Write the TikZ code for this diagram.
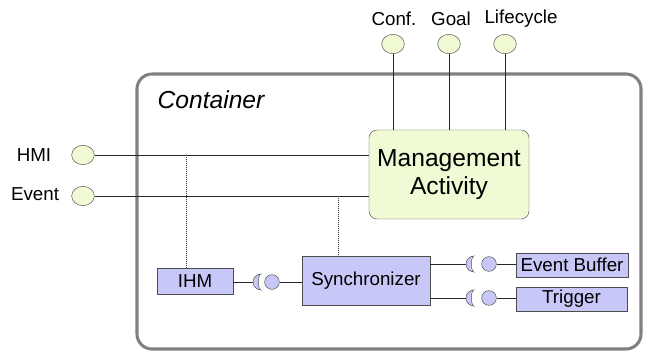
\documentclass[tikz,border=0pt]{standalone}
\usepackage{fontspec}
\setmainfont{Liberation Sans}
\usepackage{tikz}
\usepackage{color}
\usetikzlibrary{shapes}

\definecolor{actgreen}{RGB}{240,250,212}
\definecolor{partblue}{RGB}{200,200,248}
\definecolor{boxgray}{RGB}{128,128,128}

\begin{document}
\begin{tikzpicture}[x=0.03cm,y=-0.03cm]
    \tikzstyle{every node}=[font=\fontsize{16}{18}\selectfont]
    \tikzstyle{port}=[ellipse,draw=black!70,fill=actgreen,inner sep=0pt,
      minimum width=0.68cm,minimum height=0.58cm]
    \tikzstyle{part}=[rectangle,draw=black!70,fill=partblue,inner sep=0pt]
    \tikzstyle{ball}=[circle,draw=black!70,fill=partblue,inner sep=0pt,
      minimum size=0.44cm]
    \tikzstyle{wire}=[draw=black!85,line width=0.6pt]
    \useasboundingbox (0,0) rectangle (645,352);
    % container
    \draw[boxgray,line width=2.6pt,rounded corners=0.45cm] (137,74) rectangle (641,349);
    \node (cont) at (211,100) {\fontsize{21}{23}\selectfont\itshape Container};
    % management activity
    \node[rectangle,draw=black!70,fill=actgreen,rounded corners=0.24cm,
      minimum width=4.8cm,minimum height=2.67cm,align=center,
      font=\fontsize{21}{24}\selectfont] (mgmt) at (449,174.5)
      {Management\\Activity};
    % ports on top
    \foreach \name/\px/\tx/\txt in {conf/393/394/Conf.,goal/449/451/Goal,life/505/521/Lifecycle}{
      \node[port] (\name) at (\px,44) {};
      \node (\name-lbl) at (\tx,19) {\txt};
      \draw[wire] (\name) -- (\name |- mgmt.north);
    }
    % ports on the left
    \node[port] (hmi) at (83,155) {};
    \node[port] (evt) at (83,196) {};
    \node (hmi-lbl) at (34,155) {HMI};
    \node (evt-lbl) at (35,194) {Event};
    \draw[wire] (hmi) -- (hmi -| mgmt.west);
    \draw[wire] (evt) -- (evt -| mgmt.west);
    % parts
    \node[part,minimum width=2.28cm,minimum height=0.78cm] (ihm) at (195,281) {IHM};
    \node[part,minimum width=3.84cm,minimum height=1.47cm] (sync) at (366,280.5) {Synchronizer};
    \node[part,minimum width=3.36cm,minimum height=0.72cm] (evbuf) at (572,265) {Event Buffer};
    \node[part,minimum width=3.33cm,minimum height=0.72cm] (trig) at (571.5,299) {Trigger};
    % dotted links
    \coordinate (d1) at (186,155);
    \coordinate (d2) at (338,196);
    \draw[black!80,densely dotted,line width=0.7pt] (d1) -- (d1 |- ihm.north);
    \draw[black!80,densely dotted,line width=0.7pt] (d2) -- (d2 |- sync.north);
    % sockets and balls
    \foreach \sk/\bl/\sx/\bx/\sy in {s1/b1/253/272/282,s2/b2/466/489/264,s3/b3/466/489/298}{
      \coordinate (\sk) at (\sx,\sy);
      \node[ball] (\bl) at (\bx,\sy) {};
      \draw[draw=black!70,fill=partblue] (\sx+8,\sy-8) arc[start angle=90,end angle=270,radius=0.24cm]
        arc[start angle=270,end angle=90,x radius=0.08cm,y radius=0.24cm] -- cycle;
    }
    \draw[wire] (ihm.east |- s1) -- (s1);
    \draw[wire] (b1) -- (b1 -| sync.west);
    \draw[wire] (sync.east |- s2) -- (s2);
    \draw[wire] (sync.east |- s3) -- (s3);
    \draw[wire] (b2) -- (b2 -| evbuf.west);
    \draw[wire] (b3) -- (b3 -| trig.west);
  \end{tikzpicture}
\end{document}
